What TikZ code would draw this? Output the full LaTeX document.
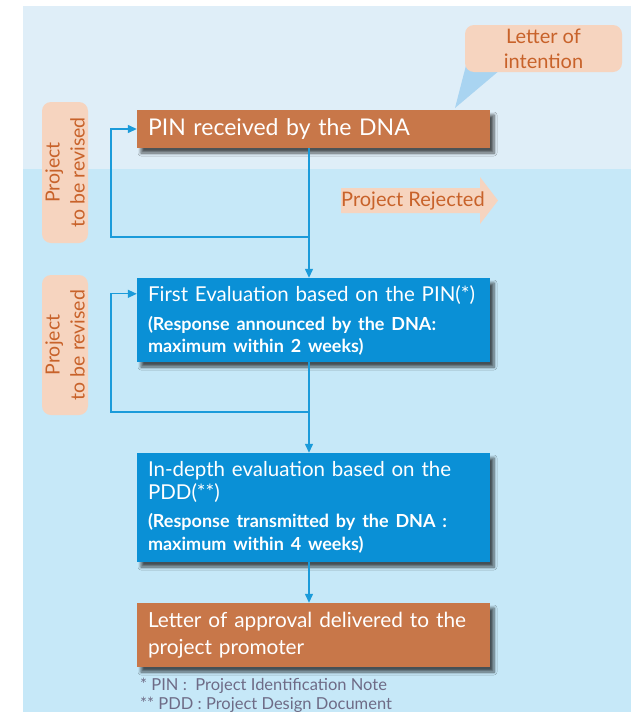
\documentclass[tikz,border=0pt]{standalone}
\usepackage{fontspec}
\setmainfont{Lato}
\usetikzlibrary{arrows.meta,shadows.blur}

\definecolor{bgtop}{HTML}{DFEEF8}
\definecolor{bgbot}{HTML}{C6E8F8}
\definecolor{boxorange}{HTML}{C87749}
\definecolor{boxblue}{HTML}{0A90D6}
\definecolor{linkblue}{HTML}{1B9BDA}
\definecolor{peach}{HTML}{F6D4BF}
\definecolor{ochre}{HTML}{C8622A}
\definecolor{pointer}{HTML}{A9D4F1}
\definecolor{notegrey}{HTML}{6E6B86}

\newcommand{\fs}[2]{\fontsize{#1}{#2}\selectfont}

\tikzset{
  stepbox/.style={rectangle, text=white, minimum width=353pt,
    text width=331pt, inner xsep=11pt, inner ysep=0pt, align=left,
    blur shadow={shadow xshift=4pt, shadow yshift=-5pt,
      shadow blur radius=3pt, shadow opacity=65, shadow blur steps=6}},
  orangestep/.style={stepbox, fill=boxorange},
  bluestep/.style={stepbox, fill=boxblue},
  revisebox/.style={rectangle, rounded corners=9pt, fill=peach, text=ochre,
    rotate=90, minimum height=46pt, inner sep=0pt, align=center,
    font=\fs{19.5}{25}},
  link/.style={draw=linkblue, line width=1.3pt,
    -{Triangle[length=9pt,width=8pt]}},
}

\begin{document}
\begin{tikzpicture}[x=1pt,y=-1pt]
  \useasboundingbox (0,0) rectangle (635,712);

  % page background: pale band on top, light blue below
  \fill[bgbot] (23,6) rectangle (631,712);
  \fill[bgtop] (23,6) rectangle (631,169);

  % callout pointer and bubble
  \fill[pointer] (470,50) -- (455,108) -- (500,70) -- cycle;
  \node[rectangle, rounded corners=9pt, fill=peach, text=ochre,
    minimum width=157pt, minimum height=47pt, inner sep=0pt,
    align=center, font=\fs{20}{25}] (intent) at (543.5,48.5)
    {Letter of\\intention};

  % process steps
  \node[orangestep, minimum height=38pt, font=\fs{23}{26}] (pin)
    at (313.5,129) {PIN received by the DNA};

  \node[bluestep, minimum height=84pt, font=\fs{20.5}{22}] (first)
    at (313.5,320)
    {First Evaluation based on the PIN(*)\\[7pt]
     {\bfseries\fs{18}{22}(Response announced by the DNA:\\
      maximum within 2 weeks)}};

  \node[bluestep, minimum height=109pt, font=\fs{20.5}{22.5}] (indepth)
    at (313.5,507.5)
    {In-depth evaluation based on the\\PDD(**)\\[6pt]
     {\bfseries\fs{18}{22.5}(Response transmitted by the DNA :\\
      maximum within 4 weeks)}};

  \node[orangestep, minimum height=64pt, font=\fs{20.8}{27}] (approval)
    at (313.5,635)
    {Letter of approval delivered to the\\project promoter};

  % side notes
  \node[revisebox, minimum width=141pt] (revise1) at (65,172.5)
    {Project\\to be revised};
  \node[revisebox, minimum width=140pt] (revise2) at (65,345)
    {Project\\to be revised};

  % rejection arrow
  \fill[peach] (341,188) -- (480,188) -- (480,177) -- (498,200.5)
    -- (480,224) -- (480,213) -- (341,213) -- cycle;
  \node[anchor=west, inner sep=0pt, text=ochre, font=\fs{20}{24}]
    (rejected) at (341,200.5) {Project Rejected};

  % connectors
  \coordinate (spine) at (309,0);
  \coordinate (back1) at (309,237);
  \coordinate (back1l) at (111,237);
  \coordinate (back2) at (309,412);
  \coordinate (back2l) at (111,412);

  \draw[link] (pin.south -| spine) -- (first.north -| spine);
  \draw[link] (back1) -- (back1l) |- (pin.west);
  \draw[link] (first.south -| spine) -- (indepth.north -| spine);
  \draw[link] (back2) -- (back2l) |- ([yshift=-16pt]first.north west);
  \draw[link] (indepth.south -| spine) -- (approval.north -| spine);

  % footnotes
  \node[anchor=north west, inner sep=0pt, text=notegrey, align=left,
    font=\fs{16.5}{19}] (notes) at (140,678)
    {* PIN :\ \ Project Identification Note\\** PDD : Project Design Document};
\end{tikzpicture}
\end{document}
